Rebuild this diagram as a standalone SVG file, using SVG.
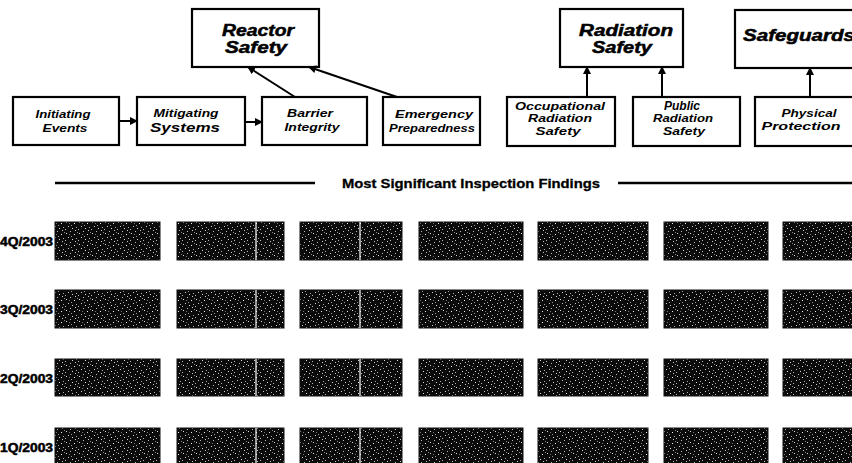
<svg xmlns="http://www.w3.org/2000/svg" width="852" height="463" viewBox="0 0 852 463">
<style>
.box{fill:#fff;stroke:#000;stroke-width:2.2}
.big{font-family:"Liberation Sans",Arial,sans-serif;font-weight:bold;font-style:italic;font-size:16px;fill:#000;stroke:#000;stroke-width:0.5;text-anchor:middle}
.sm{font-family:"Liberation Sans",Arial,sans-serif;font-weight:bold;font-style:italic;font-size:11px;fill:#000;text-anchor:middle}
.lbl{font-family:"Liberation Sans",Arial,sans-serif;font-weight:bold;font-size:12px;fill:#000;stroke:#000;stroke-width:0.5}
.head{font-family:"Liberation Sans",Arial,sans-serif;font-weight:bold;font-size:13px;fill:#000;stroke:#000;stroke-width:0.3}
.conn{stroke:#000;stroke-width:2;fill:none}
.cell{fill:url(#speck);stroke:#111;stroke-width:1}
.div{stroke:#fff;stroke-width:1.2}
</style>
<defs>
<marker id="ah" markerWidth="8" markerHeight="8" refX="7" refY="4" orient="auto" markerUnits="userSpaceOnUse">
<path d="M0,0 L8,4 L0,8 Z" fill="#000"/>
</marker>
<pattern id="speck" width="13" height="11" patternUnits="userSpaceOnUse">
<rect width="13" height="11" fill="#0b0b0b"/>
<rect x="1" y="2" width="1" height="1" fill="#ddd"/>
<rect x="5" y="0" width="1" height="1" fill="#bbb"/>
<rect x="9" y="3" width="1" height="1" fill="#eee"/>
<rect x="3" y="6" width="1" height="1" fill="#ccc"/>
<rect x="7" y="8" width="1" height="1" fill="#ddd"/>
<rect x="11" y="7" width="1" height="1" fill="#aaa"/>
<rect x="6" y="5" width="1" height="1" fill="#999"/>
<rect x="0" y="9" width="1" height="1" fill="#bbb"/>
<rect x="10" y="10" width="1" height="1" fill="#ccc"/>
<rect x="12" y="1" width="1" height="1" fill="#888"/>
<rect x="4" y="3" width="1" height="1" fill="#777"/>
</pattern>
</defs>
<rect width="852" height="463" fill="#fff"/>

<g id="reactor-safety">
<rect class="box" x="192" y="9" width="127" height="58"/>
<text class="big" x="258" y="36" textLength="72" lengthAdjust="spacingAndGlyphs">Reactor</text>
<text class="big" x="256" y="53" textLength="62" lengthAdjust="spacingAndGlyphs">Safety</text>
</g>
<g id="radiation-safety">
<rect class="box" x="560" y="9" width="123" height="58"/>
<text class="big" x="626" y="36" textLength="94" lengthAdjust="spacingAndGlyphs">Radiation</text>
<text class="big" x="622" y="53" textLength="60" lengthAdjust="spacingAndGlyphs">Safety</text>
</g>
<g id="safeguards">
<rect class="box" x="735" y="10" width="130" height="58"/>
<text class="big" x="743" y="41" style="text-anchor:start" textLength="112" lengthAdjust="spacingAndGlyphs">Safeguards</text>
</g>

<g id="initiating-events">
<rect class="box" x="13" y="97" width="106" height="48"/>
<text class="sm" x="63" y="118" textLength="55" lengthAdjust="spacingAndGlyphs">Initiating</text>
<text class="sm" x="65" y="132" textLength="45" lengthAdjust="spacingAndGlyphs">Events</text>
</g>
<g id="mitigating-systems">
<rect class="box" x="137" y="97" width="108" height="48"/>
<text class="sm" x="186" y="117" textLength="65" lengthAdjust="spacingAndGlyphs">Mitigating</text>
<text class="sm" x="185" y="132" style="font-size:12.5px" textLength="70" lengthAdjust="spacingAndGlyphs">Systems</text>
</g>
<g id="barrier-integrity">
<rect class="box" x="262" y="97" width="105" height="48"/>
<text class="sm" x="310" y="117" textLength="46" lengthAdjust="spacingAndGlyphs">Barrier</text>
<text class="sm" x="312" y="131" textLength="55" lengthAdjust="spacingAndGlyphs">Integrity</text>
</g>
<g id="emergency-preparedness">
<rect class="box" x="383" y="97" width="97" height="48"/>
<text class="sm" x="434" y="118" textLength="78" lengthAdjust="spacingAndGlyphs">Emergency</text>
<text class="sm" x="432" y="132" textLength="86" lengthAdjust="spacingAndGlyphs">Preparedness</text>
</g>
<g id="occupational-radiation-safety">
<rect class="box" x="507" y="97" width="108" height="49"/>
<text class="sm" x="560" y="110" textLength="90" lengthAdjust="spacingAndGlyphs">Occupational</text>
<text class="sm" x="560" y="122" textLength="64" lengthAdjust="spacingAndGlyphs">Radiation</text>
<text class="sm" x="558" y="135" textLength="45" lengthAdjust="spacingAndGlyphs">Safety</text>
</g>
<g id="public-radiation-safety">
<rect class="box" x="633" y="97" width="107" height="49"/>
<text class="sm" x="682" y="110" style="font-size:12px" textLength="36" lengthAdjust="spacingAndGlyphs">Public</text>
<text class="sm" x="683" y="122" textLength="60" lengthAdjust="spacingAndGlyphs">Radiation</text>
<text class="sm" x="684" y="135" textLength="42" lengthAdjust="spacingAndGlyphs">Safety</text>
</g>
<g id="physical-protection">
<rect class="box" x="755" y="97" width="110" height="49"/>
<text class="sm" x="809" y="117" textLength="55" lengthAdjust="spacingAndGlyphs">Physical</text>
<text class="sm" x="801" y="130" textLength="79" lengthAdjust="spacingAndGlyphs">Protection</text>
</g>

<g id="connectors">
<line class="conn" x1="119" y1="121" x2="137" y2="121" marker-end="url(#ah)"/>
<line class="conn" x1="245" y1="122" x2="262" y2="122" marker-end="url(#ah)"/>
<line class="conn" x1="295" y1="97" x2="248" y2="67" marker-end="url(#ah)"/>
<line class="conn" x1="397" y1="97" x2="309" y2="67" marker-end="url(#ah)"/>
<line class="conn" x1="587" y1="97" x2="587" y2="67" marker-end="url(#ah)"/>
<line class="conn" x1="662" y1="97" x2="662" y2="67" marker-end="url(#ah)"/>
<line class="conn" x1="810" y1="97" x2="810" y2="68" marker-end="url(#ah)"/>
</g>

<g id="findings-heading">
<line x1="55" y1="183" x2="315" y2="183" stroke="#000" stroke-width="2.5"/>
<text class="head" x="342" y="188" textLength="258" lengthAdjust="spacingAndGlyphs">Most Significant Inspection Findings</text>
<line x1="618" y1="183" x2="852" y2="183" stroke="#000" stroke-width="2.5"/>
</g>

<g id="row-labels">
<text class="lbl" x="0" y="246" textLength="53" lengthAdjust="spacingAndGlyphs">4Q/2003</text>
<text class="lbl" x="0" y="314" textLength="53" lengthAdjust="spacingAndGlyphs">3Q/2003</text>
<text class="lbl" x="0" y="383" textLength="53" lengthAdjust="spacingAndGlyphs">2Q/2003</text>
<text class="lbl" x="0" y="452" textLength="53" lengthAdjust="spacingAndGlyphs">1Q/2003</text>
</g>

<g id="findings-grid">
<rect class="cell" x="55" y="222" width="105" height="38"/>
<rect class="cell" x="177" y="222" width="107" height="38"/>
<rect class="cell" x="300" y="222" width="102" height="38"/>
<rect class="cell" x="419" y="222" width="104" height="38"/>
<rect class="cell" x="538" y="222" width="110" height="38"/>
<rect class="cell" x="664" y="222" width="104" height="38"/>
<rect class="cell" x="783" y="222" width="80" height="38"/>

<rect class="cell" x="55" y="290" width="105" height="38"/>
<rect class="cell" x="177" y="290" width="107" height="38"/>
<rect class="cell" x="300" y="290" width="102" height="38"/>
<rect class="cell" x="419" y="290" width="104" height="38"/>
<rect class="cell" x="538" y="290" width="110" height="38"/>
<rect class="cell" x="664" y="290" width="104" height="38"/>
<rect class="cell" x="783" y="290" width="80" height="38"/>

<rect class="cell" x="55" y="359" width="105" height="37"/>
<rect class="cell" x="177" y="359" width="107" height="37"/>
<rect class="cell" x="300" y="359" width="102" height="37"/>
<rect class="cell" x="419" y="359" width="104" height="37"/>
<rect class="cell" x="538" y="359" width="110" height="37"/>
<rect class="cell" x="664" y="359" width="104" height="37"/>
<rect class="cell" x="783" y="359" width="80" height="37"/>

<rect class="cell" x="55" y="428" width="105" height="40"/>
<rect class="cell" x="177" y="428" width="107" height="40"/>
<rect class="cell" x="300" y="428" width="102" height="40"/>
<rect class="cell" x="419" y="428" width="104" height="40"/>
<rect class="cell" x="538" y="428" width="110" height="40"/>
<rect class="cell" x="664" y="428" width="104" height="40"/>
<rect class="cell" x="783" y="428" width="80" height="40"/>

<line class="div" x1="256" y1="222" x2="256" y2="260"/>
<line class="div" x1="360" y1="222" x2="360" y2="260"/>
<line class="div" x1="256" y1="290" x2="256" y2="328"/>
<line class="div" x1="360" y1="290" x2="360" y2="328"/>
<line class="div" x1="256" y1="359" x2="256" y2="396"/>
<line class="div" x1="360" y1="359" x2="360" y2="396"/>
<line class="div" x1="256" y1="428" x2="256" y2="463"/>
<line class="div" x1="360" y1="428" x2="360" y2="463"/>
</g>
</svg>
